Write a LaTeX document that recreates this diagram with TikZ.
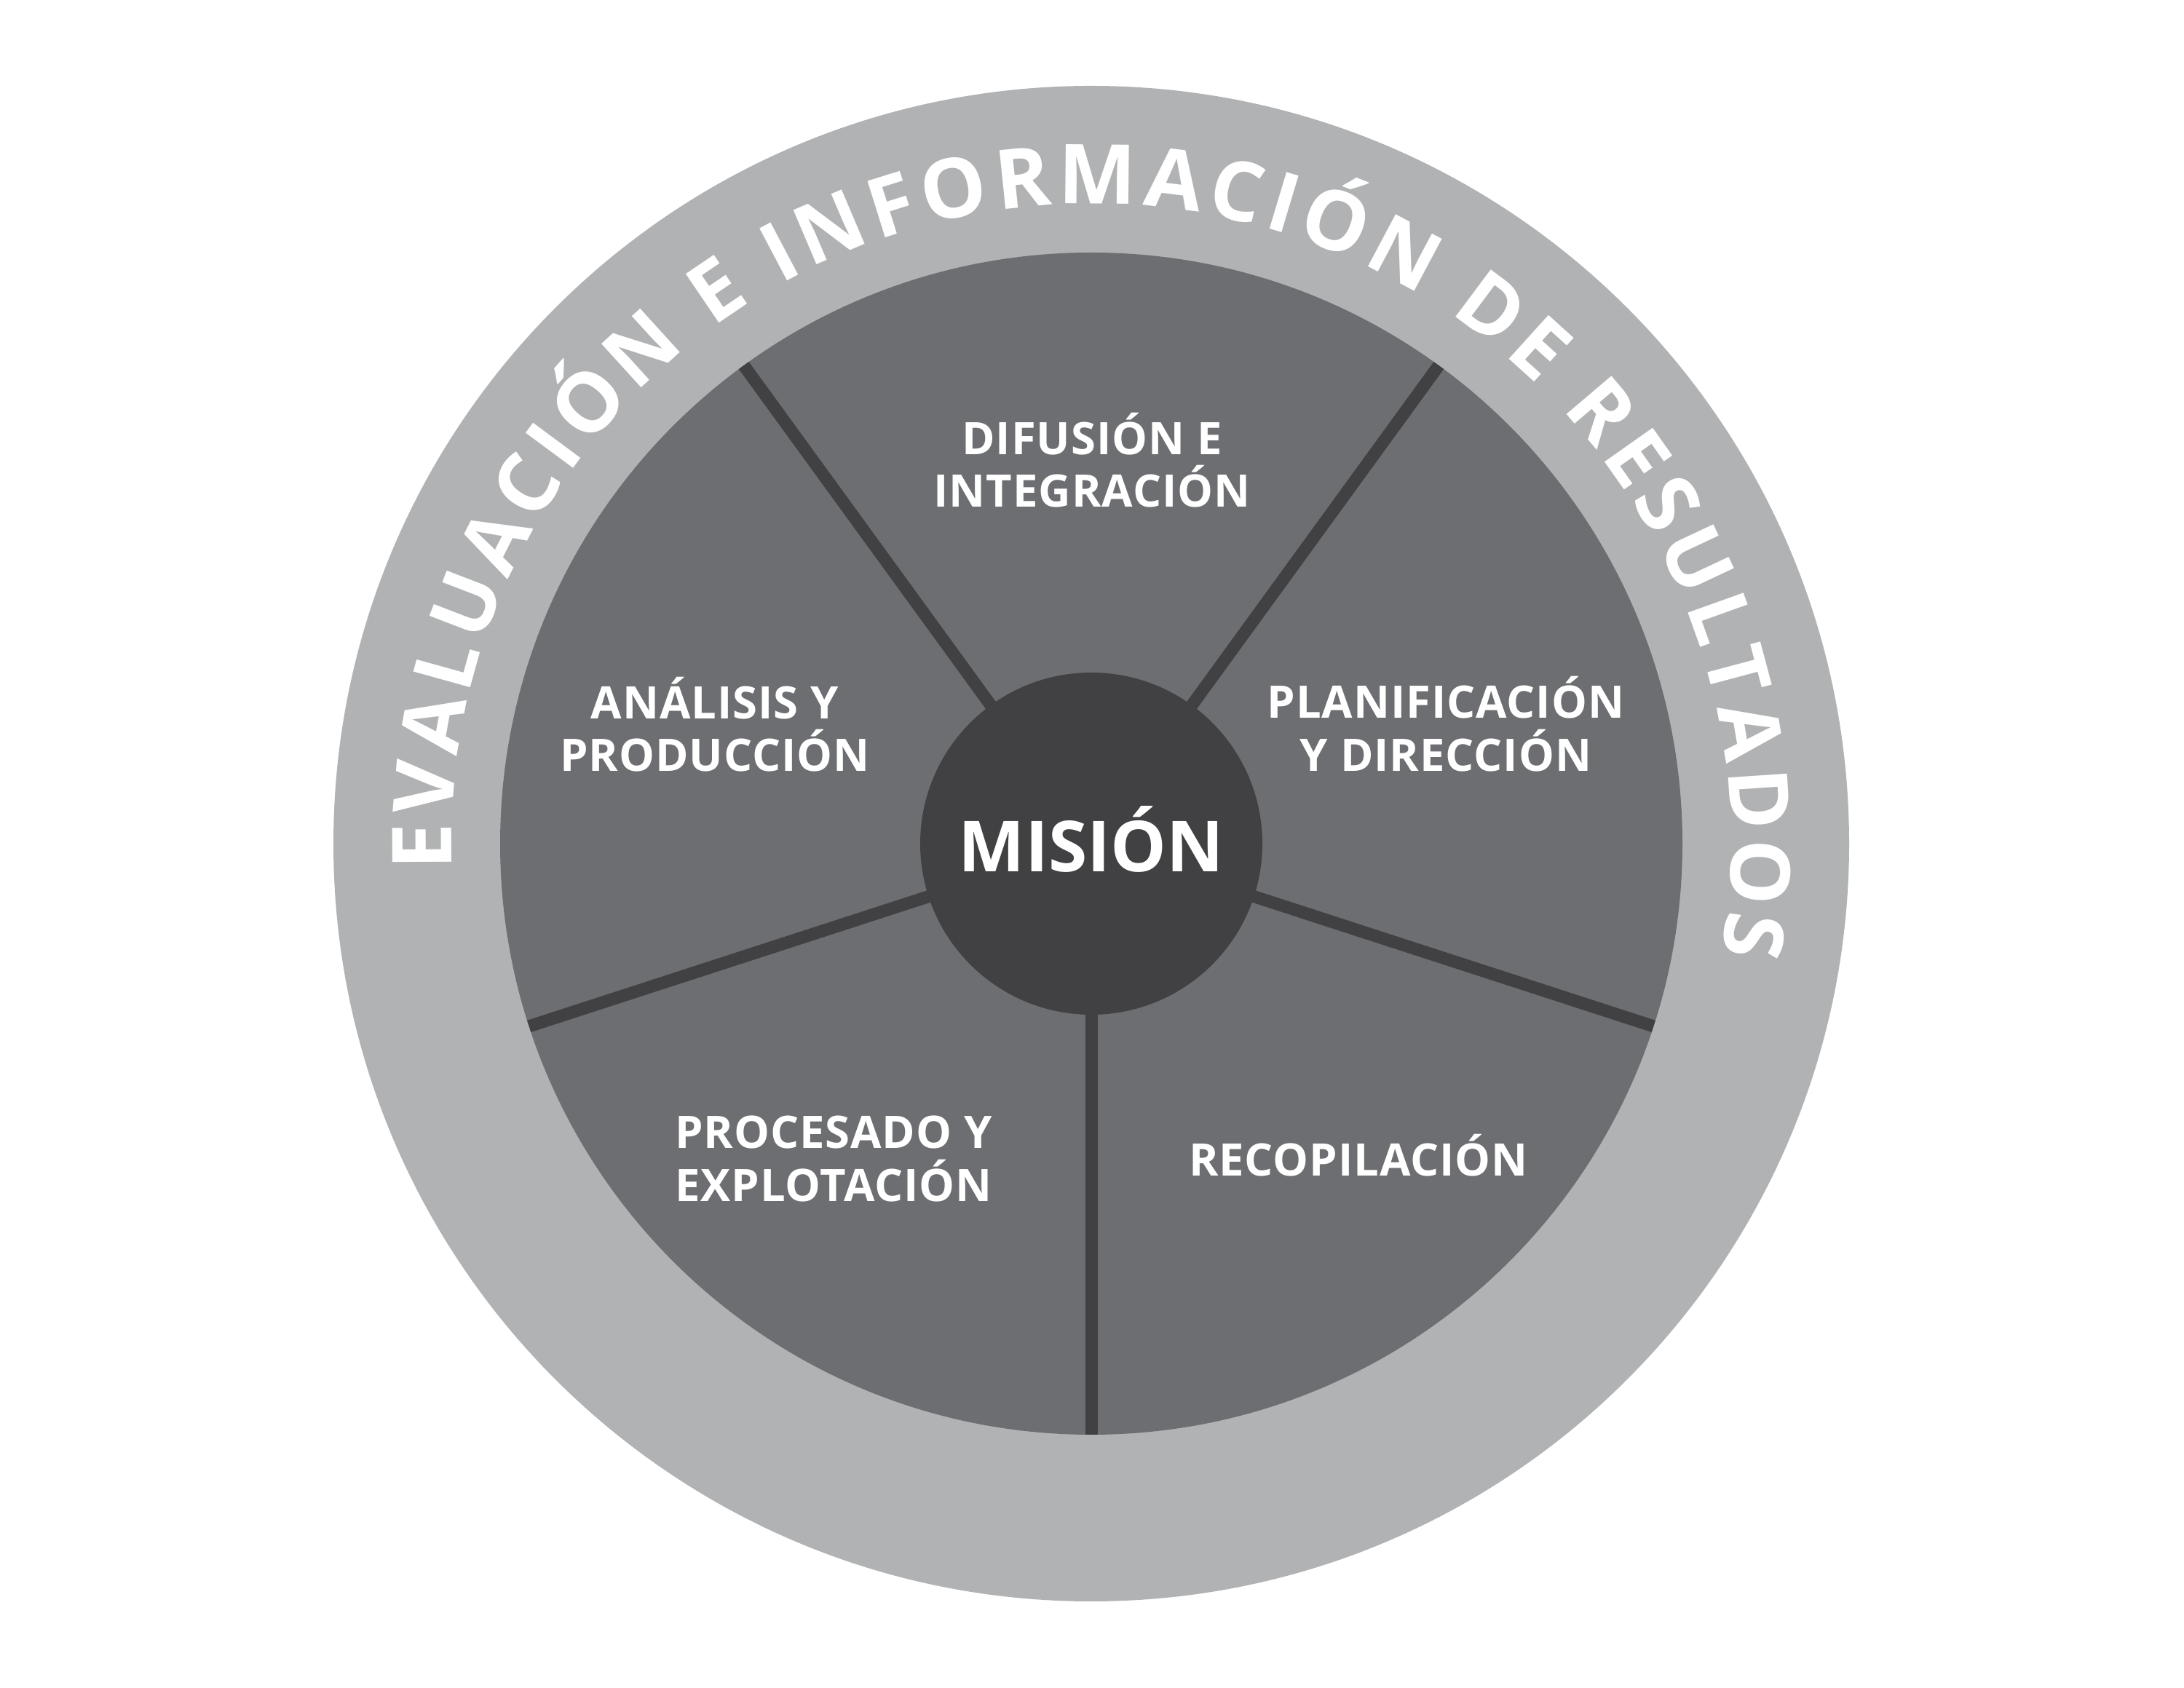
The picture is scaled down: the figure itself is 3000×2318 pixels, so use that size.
\documentclass[tikz,border=0pt]{standalone}
\usepackage{fontspec}
\setmainfont{Open Sans}
\newfontfamily\labelfamily{Open Sans}[LetterSpace=1.5]
\newfontfamily\ringfamily{Open Sans}
\usetikzlibrary{decorations.text,calc}
\definecolor{ringgray}{HTML}{B0B2B4}
\definecolor{seggray}{HTML}{6D6E71}
\definecolor{darkgray}{HTML}{414143}
\newcommand{\lblfont}{\labelfamily\bfseries\fontsize{17.5}{21}\selectfont}
\newcommand{\ringfont}{\ringfamily\bfseries\fontsize{32.3}{38}\selectfont}
\tikzset{
  lbl/.style={text=white, inner sep=0pt, anchor=base, font=\lblfont},
  spoke/.style={draw=darkgray, line width=0.17cm},
}
\begin{document}
\begin{tikzpicture}[x=0.01cm, y=0.01cm]
\useasboundingbox (0,0) rectangle (3000,2318);
\coordinate (C) at (1499,1159);
% rings
\fill[ringgray] (C) circle[radius=1041];
\fill[seggray] (C) circle[radius=812];
% spokes
\foreach \a/\n in {54/a,126/b,198/c,270/d,342/e}{
  \coordinate (S\n) at ($(C)+(\a:812)$);
}
\draw[spoke] (C) -- (Sa);
\draw[spoke] (C) -- (Sb);
\draw[spoke] (C) -- (Sc);
\draw[spoke] (C) -- (Sd);
\draw[spoke] (C) -- (Se);
% centre
\fill[darkgray] (C) circle[radius=235];
\node[lbl, font=\ringfamily\bfseries\fontsize{27.5}{32}\selectfont] (mision) at (1499,1120.6) {MISIÓN};
% ring text
\path[decorate, decoration={text along path, text align={fit to path},
  text={|\ringfont\color{white}|EVALUACIÓN E INFORMACIÓN DE RESULTADOS}}]
  ($(C)+(182.3:879)$) arc[start angle=182.3, end angle=-10, radius=879];
% labels
\node[lbl] (dif1) at (1500,1693) {DIFUSIÓN E};
\node[lbl] (dif2) at (1500,1621) {INTEGRACIÓN};
\node[lbl] (ana1) at (982,1330.5) {ANÁLISIS Y};
\node[lbl] (ana2) at (982,1258.5) {PRODUCCIÓN};
\node[lbl] (pla1) at (1986,1331) {PLANIFICACIÓN};
\node[lbl] (pla2) at (1986,1258) {Y DIRECCIÓN};
\node[lbl] (pro1) at (1145,740) {PROCESADO Y};
\node[lbl] (pro2) at (1145,667) {EXPLOTACIÓN};
\node[lbl] (rec) at (1866,702) {RECOPILACIÓN};
\end{tikzpicture}
\end{document}
